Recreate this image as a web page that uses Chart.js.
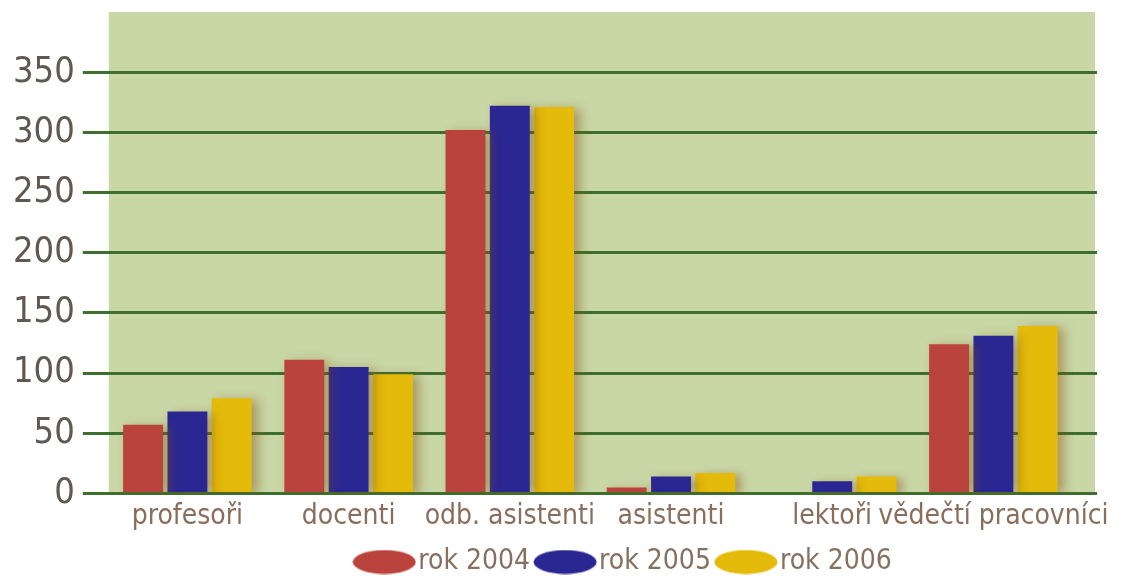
<!DOCTYPE html>
<html>
<head>
<meta charset="utf-8">
<script src="https://cdn.jsdelivr.net/npm/chart.js@4/dist/chart.umd.min.js"></script>
<style>
  html, body { margin: 0; padding: 0; background: #ffffff; }
  #wrap { width: 1125px; height: 583px; }
</style>
</head>
<body>
<div id="wrap"><canvas id="canvas"></canvas></div>
<script>
var categories = ['profesoři', 'docenti', 'odb. asistenti', 'asistenti', 'lektoři', 'vědečtí pracovníci'];

var rok2004 = [57, 111, 302, 5, 0, 124];
var rok2005 = [68, 105, 322, 14, 10, 131];
var rok2006 = [79, 99, 321, 17, 14, 139];

var seriesNames = ['rok 2004', 'rok 2005', 'rok 2006'];
var seriesColors = ['#bb433e', '#2b2792', '#e4bb0a'];

// 400 is the top of the plot, drawn without line or label
var yTicks = [0, 50, 100, 150, 200, 250, 300, 350, 400];
var yTop = 400;

var fontFamily = '"DejaVu Sans Condensed", "DejaVu Sans", sans-serif';

// ellipse swatch for the legend
function ellipse(color) {
    var c = document.createElement('canvas');
    c.width = 64;
    c.height = 25;
    var g = c.getContext('2d');
    g.fillStyle = color;
    g.beginPath();
    g.ellipse(32, 12.5, 31.5, 12, 0, 0, Math.PI * 2);
    g.fill();
    return c;
}

var plotBackground = {
    id: 'plotBackground',
    beforeDraw: function(chart) {
        var a = chart.chartArea;
        var right = chart.scales.y2.right;
        var ctx = chart.ctx;
        ctx.save();
        ctx.fillStyle = '#c9d6a5';
        ctx.fillRect(a.left + 2, a.top, right - a.left - 4, a.bottom - a.top);
        ctx.restore();
    }
};

var barShadow = {
    id: 'barShadow',
    beforeDatasetsDraw: function(chart) {
        var ctx = chart.ctx;
        ctx.save();
        ctx.shadowColor = 'rgba(130, 80, 20, 0.45)';
        ctx.shadowBlur = 10;
        ctx.shadowOffsetX = 6;
        ctx.shadowOffsetY = 2;
    },
    afterDatasetsDraw: function(chart) {
        chart.ctx.restore();
    }
};

// the legend in the original sits a little right of centre
var legendShift = {
    id: 'legendShift',
    afterLayout: function(chart) {
        chart.legend.left += 77;
        chart.legend.right += 77;
    }
};

var barChartData = {
    labels: categories,
    datasets: [{
        label: seriesNames[0],
        backgroundColor: seriesColors[0],
        pointStyle: ellipse(seriesColors[0]),
        data: rok2004
    }, {
        label: seriesNames[1],
        backgroundColor: seriesColors[1],
        pointStyle: ellipse(seriesColors[1]),
        data: rok2005
    }, {
        label: seriesNames[2],
        backgroundColor: seriesColors[2],
        pointStyle: ellipse(seriesColors[2]),
        data: rok2006
    }]
};

function gridColor(c) {
    return c.tick && c.tick.value === yTop ? 'rgba(0,0,0,0)' : '#3f6f2e';
}

function buildTicks(axis) {
    axis.ticks = yTicks.map(function(v) { return { value: v }; });
}

window.onload = function() {
    var ctx = document.getElementById('canvas').getContext('2d');
    window.myBar = new Chart(ctx, {
        type: 'bar',
        data: barChartData,
        plugins: [plotBackground, barShadow, legendShift],
        options: {
            responsive: true,
            maintainAspectRatio: false,
            animation: false,
            categoryPercentage: 0.825,
            barPercentage: 0.9,
            layout: {
                padding: { top: 12, right: 28, left: 5, bottom: -3 }
            },
            plugins: {
                title: { display: false },
                tooltip: { enabled: false },
                legend: {
                    position: 'bottom',
                    labels: {
                        usePointStyle: true,
                        pointStyleWidth: 40,
                        boxHeight: 25,
                        padding: 15,
                        color: '#86705f',
                        font: { family: fontFamily, size: 28 }
                    }
                }
            },
            scales: {
                x: {
                    grid: { display: false },
                    border: { display: false },
                    ticks: {
                        color: '#8a6e5c',
                        padding: -1,
                        maxRotation: 0,
                        autoSkip: false,
                        font: { family: fontFamily, size: 28 }
                    }
                },
                y: {
                    min: 0,
                    max: yTop,
                    afterBuildTicks: buildTicks,
                    grid: {
                        color: gridColor,
                        lineWidth: 3,
                        tickLength: 24
                    },
                    border: { display: false },
                    ticks: {
                        color: '#605852',
                        padding: 8,
                        callback: function(v) { return v === yTop ? '' : v; },
                        font: function(c) {
                            return { family: fontFamily, size: c.tick && c.tick.value === yTop ? 1 : 36 };
                        }
                    }
                },
                y2: {
                    position: 'right',
                    min: 0,
                    max: yTop,
                    afterBuildTicks: buildTicks,
                    grid: {
                        color: gridColor,
                        lineWidth: 3,
                        tickLength: 23,
                        drawOnChartArea: false
                    },
                    border: { display: false },
                    ticks: { display: false }
                }
            }
        }
    });
};
</script>
</body>
</html>
